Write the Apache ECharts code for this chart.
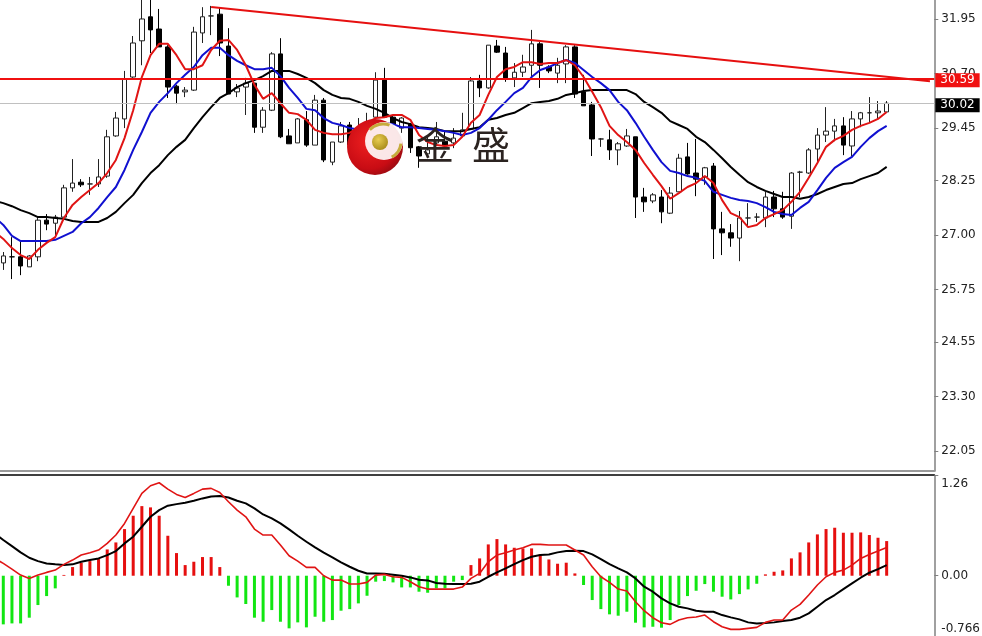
<!DOCTYPE html>
<html>
<head>
<meta charset="utf-8">
<style>html,body{margin:0;padding:0;background:#fff;}#c{width:982px;height:636px;}</style>
<script src="https://cdn.jsdelivr.net/npm/echarts@6/dist/echarts.min.js"></script>
</head>
<body>
<div id="c"></div>
<script>
const opens = [
26.36,26.50,26.50,26.27,26.50,27.34,27.27,27.41,28.08,28.21,
28.17,28.17,28.35,29.27,29.66,30.62,31.45,32.00,31.72,31.31,
30.41,30.28,30.32,31.63,32.02,32.06,31.33,30.28,30.39,30.48,
29.47,29.86,31.15,29.27,29.11,29.64,29.06,30.09,28.67,29.13,
29.52,29.18,29.29,29.70,30.55,29.70,29.45,29.54,29.02,28.86,
29.11,29.15,29.11,29.27,29.43,30.53,30.37,31.33,31.17,30.60,
30.73,30.89,31.38,30.85,30.71,30.92,31.31,30.28,29.98,29.20,
29.18,28.95,29.04,29.25,27.87,27.78,27.87,27.50,27.99,28.79,
28.42,28.33,28.58,27.14,27.05,26.93,27.39,27.41,27.39,27.87,
27.60,27.43,28.44,28.42,28.97,29.29,29.38,29.50,29.04,29.66,
29.80,29.80,29.82];
const closes = [
26.52,26.50,26.29,26.52,27.34,27.25,27.41,28.08,28.19,28.15,
28.17,28.33,29.25,29.68,30.57,31.40,31.95,31.70,31.31,30.39,
30.25,30.32,31.65,32.00,32.02,31.40,30.23,30.37,30.48,29.47,
29.86,31.15,29.25,29.09,29.66,29.06,30.09,28.72,29.13,29.50,
29.06,29.41,29.52,30.55,29.70,29.52,29.68,29.00,28.81,28.95,
29.25,29.04,29.22,29.41,30.53,30.37,31.35,31.19,30.60,30.73,
30.85,31.38,30.89,30.76,30.89,31.31,30.23,29.96,29.20,29.20,
28.95,29.09,29.27,27.87,27.76,27.92,27.53,27.96,28.76,28.40,
28.28,28.54,27.14,27.05,26.93,27.39,27.39,27.41,27.87,27.60,
27.41,28.42,28.44,28.95,29.29,29.38,29.50,29.06,29.66,29.80,
29.80,29.84,30.02];
const lows = [
26.20,25.99,26.08,26.27,26.40,27.11,27.00,27.41,27.99,28.10,
27.92,28.10,28.31,29.25,29.45,30.60,30.89,31.17,31.31,30.14,
30.00,30.16,30.30,31.40,31.58,31.10,30.23,30.16,29.75,29.34,
29.34,29.84,29.22,29.09,29.11,29.02,29.06,28.67,28.60,29.11,
28.95,29.10,29.20,29.68,29.70,29.47,29.34,28.88,28.54,28.79,
29.06,28.99,28.99,29.25,29.41,30.16,30.35,31.17,30.51,30.39,
30.62,30.64,30.37,30.71,30.48,30.48,30.14,29.96,28.81,29.02,
28.72,28.60,29.02,27.39,27.53,27.73,27.27,27.48,27.99,28.38,
27.89,28.15,26.45,26.54,26.73,26.40,27.18,27.30,27.18,27.41,
27.37,27.14,27.87,28.40,28.67,29.13,29.15,28.83,28.81,29.47,
29.57,29.64,29.82];
const highs = [
26.61,26.95,26.84,26.54,27.41,27.48,27.46,28.15,28.74,28.28,
28.33,28.74,29.41,29.82,30.76,31.56,32.60,32.50,32.18,31.35,
30.44,30.39,31.77,32.22,32.25,32.20,31.74,30.46,30.60,30.48,
29.93,31.19,31.51,29.43,29.68,29.84,30.21,30.14,29.13,29.59,
29.59,29.68,29.80,30.73,30.83,29.75,29.70,29.57,29.04,29.29,
29.59,29.36,29.45,29.80,30.62,30.67,31.35,31.47,31.31,30.94,
31.13,31.70,31.42,30.89,31.06,31.35,31.35,30.67,30.05,29.22,
29.41,29.13,29.43,29.25,28.08,27.96,28.03,28.10,28.86,29.11,
29.20,28.56,28.65,27.53,27.25,27.55,27.73,27.50,27.99,28.01,
27.99,28.44,28.47,28.99,29.45,29.93,29.66,29.70,29.84,29.82,
30.16,30.07,30.07];
const maFast = [
27.07,
26.91,26.70,26.54,26.45,26.66,26.82,26.95,27.39,27.69,27.87,
28.03,28.19,28.42,28.72,29.22,29.86,30.62,31.12,31.38,31.38,
31.12,30.80,30.80,30.89,31.24,31.45,31.47,31.24,30.89,30.44,
30.12,30.25,30.02,29.80,29.77,29.64,29.41,29.34,29.31,29.31,
29.34,29.47,29.57,29.68,29.70,29.75,29.75,29.64,29.29,29.13,
29.06,29.04,29.06,29.25,29.57,29.75,30.21,30.62,30.80,30.85,
30.96,30.96,30.92,30.94,30.94,31.01,30.89,30.62,30.28,29.93,
29.50,29.29,29.13,28.95,28.65,28.38,28.12,27.83,27.96,28.10,
28.19,28.35,28.19,27.80,27.50,27.41,27.18,27.23,27.39,27.48,
27.57,27.76,27.99,28.31,28.65,29.02,29.18,29.27,29.41,29.50,
29.57,29.66,29.82];
const maMid = [
27.41,
27.23,26.98,26.86,26.86,26.86,26.86,26.89,26.98,27.07,27.27,
27.41,27.62,27.87,28.10,28.49,28.95,29.36,29.80,30.05,30.25,
30.48,30.67,30.85,31.12,31.29,31.29,31.12,30.99,30.89,30.80,
30.80,30.83,30.64,30.37,30.14,29.89,29.86,29.68,29.57,29.52,
29.45,29.41,29.36,29.47,29.57,29.54,29.47,29.47,29.45,29.43,
29.41,29.38,29.34,29.29,29.34,29.45,29.64,29.86,30.05,30.25,
30.37,30.62,30.78,30.85,30.94,31.01,30.94,30.78,30.62,30.48,
30.32,30.05,29.86,29.57,29.25,28.95,28.67,28.47,28.42,28.35,
28.31,28.24,27.99,27.92,27.85,27.80,27.78,27.73,27.64,27.53,
27.48,27.46,27.62,27.76,28.03,28.31,28.54,28.67,28.79,29.02,
29.22,29.38,29.50];
const maSlow = [
27.78,
27.73,27.66,27.57,27.50,27.41,27.41,27.39,27.37,27.32,27.30,
27.30,27.30,27.39,27.53,27.73,27.92,28.19,28.42,28.60,28.83,
29.02,29.18,29.45,29.70,29.93,30.14,30.25,30.39,30.48,30.55,
30.64,30.76,30.76,30.76,30.69,30.60,30.48,30.32,30.21,30.14,
30.12,30.05,29.96,29.89,29.80,29.68,29.59,29.54,29.47,29.45,
29.43,29.38,29.38,29.38,29.43,29.47,29.64,29.68,29.75,29.80,
29.91,30.02,30.05,30.07,30.12,30.21,30.25,30.30,30.32,30.32,
30.32,30.32,30.32,30.23,30.05,29.93,29.80,29.61,29.52,29.43,
29.25,29.13,28.95,28.76,28.56,28.38,28.21,28.10,28.01,27.94,
27.87,27.87,27.83,27.87,27.94,28.03,28.10,28.17,28.19,28.28,
28.35,28.42,28.56];
const macdHist = [
-0.612,-0.600,-0.600,-0.528,-0.369,-0.256,-0.159,0.010,0.109,0.164,
0.184,0.210,0.331,0.419,0.587,0.755,0.876,0.860,0.755,0.503,
0.285,0.134,0.176,0.235,0.235,0.109,-0.126,-0.273,-0.356,-0.528,
-0.579,-0.432,-0.579,-0.662,-0.587,-0.650,-0.516,-0.579,-0.558,-0.440,
-0.420,-0.348,-0.252,-0.075,-0.067,-0.084,-0.147,-0.147,-0.201,-0.214,
-0.159,-0.159,-0.075,-0.055,0.134,0.218,0.394,0.461,0.394,0.352,
0.344,0.344,0.268,0.205,0.151,0.164,0.029,-0.117,-0.306,-0.420,
-0.486,-0.503,-0.453,-0.591,-0.650,-0.642,-0.654,-0.558,-0.369,-0.256,
-0.189,-0.105,-0.201,-0.264,-0.298,-0.231,-0.172,-0.101,0.017,0.050,
0.067,0.218,0.294,0.419,0.520,0.587,0.604,0.541,0.541,0.545,
0.512,0.478,0.436];
const macdRed = [
0.218,
0.155,0.084,0.008,-0.034,0.008,0.042,0.071,0.143,0.197,0.260,
0.289,0.323,0.407,0.512,0.658,0.847,1.036,1.132,1.170,1.090,
1.023,0.985,1.036,1.090,1.099,1.048,0.931,0.826,0.742,0.587,
0.512,0.512,0.386,0.252,0.184,0.105,0.105,0.000,-0.055,-0.055,
-0.105,-0.105,-0.084,0.008,0.017,-0.013,-0.021,-0.075,-0.138,-0.168,
-0.168,-0.168,-0.168,-0.143,-0.034,0.029,0.176,0.260,0.289,0.323,
0.352,0.394,0.394,0.386,0.386,0.386,0.323,0.260,0.113,-0.013,
-0.084,-0.168,-0.193,-0.327,-0.440,-0.528,-0.591,-0.612,-0.558,-0.528,
-0.520,-0.495,-0.579,-0.642,-0.675,-0.675,-0.662,-0.650,-0.587,-0.558,
-0.558,-0.432,-0.361,-0.243,-0.117,-0.013,0.042,0.071,0.134,0.218,
0.268,0.310,0.356];
const macdBlack = [
0.533,
0.449,0.373,0.294,0.226,0.184,0.155,0.143,0.134,0.143,0.176,
0.197,0.218,0.260,0.310,0.407,0.491,0.616,0.742,0.826,0.881,
0.901,0.918,0.943,0.973,0.998,1.002,0.985,0.943,0.910,0.847,
0.771,0.721,0.658,0.583,0.503,0.428,0.356,0.290,0.231,0.168,
0.113,0.063,0.029,0.029,0.025,0.013,0.000,-0.021,-0.050,-0.059,
-0.092,-0.101,-0.105,-0.105,-0.101,-0.075,-0.013,0.042,0.092,0.147,
0.197,0.239,0.260,0.268,0.294,0.310,0.314,0.310,0.268,0.210,
0.147,0.092,0.042,-0.034,-0.138,-0.201,-0.285,-0.348,-0.390,-0.411,
-0.440,-0.453,-0.453,-0.495,-0.524,-0.549,-0.587,-0.600,-0.595,-0.587,
-0.570,-0.558,-0.528,-0.474,-0.390,-0.306,-0.243,-0.168,-0.096,-0.025,
0.038,0.084,0.134];
const priceTicks = [22.05,23.30,24.55,25.75,27.00,28.25,29.45,30.70,31.95];
const macdTicks = [-0.766,0,1.26];
const macdLabels = ['-0.766','0.00','1.26'];
const askPrice = 30.59;
const lastPrice = 30.02;
const trendFrom = [25, 32.225];
const trendTo = [108, 30.524];
const priceMin = 21.592, priceMax = 32.385;
const macdMin = -0.766, macdMax = 1.26;

const categories = [];
for (let i = 0; i < 109; i++) categories.push(String(i));
// The first slot sits just left of the picture: only the lines reach into it.
const candles = [['-', '-', '-', '-']].concat(opens.map((o, i) => [o, closes[i], lows[i], highs[i]]));
const hist = ['-'].concat(macdHist);

const AXIS = '#808080';
const TXT = '#222';
const FONT = '"DejaVu Sans", sans-serif';
const line = (name, data, color, xi, yi, w) => ({
  type: 'line', name, data, xAxisIndex: xi, yAxisIndex: yi, showSymbol: false, symbol: 'none',
  smooth: false, lineStyle: { color, width: w }, z: 4, silent: true
});

const chart = echarts.init(document.getElementById('c'), null, { renderer: 'canvas' });
chart.setOption({
  animation: false,
  backgroundColor: '#fff',
  grid: [
    { left: -9.7, width: 944, top: 0, height: 471, outerBoundsMode: 'none' },
    { left: -9.7, width: 944, top: 475.6, height: 161, outerBoundsMode: 'none' }
  ],
  xAxis: [
    { type: 'category', gridIndex: 0, data: categories, position: 'bottom',
      axisLine: { show: true, onZero: false, lineStyle: { color: '#9a9a9a', width: 2 } },
      axisTick: { show: false }, axisLabel: { show: false }, splitLine: { show: false } },
    { type: 'category', gridIndex: 1, data: categories, position: 'top', offset: 1,
      axisLine: { show: true, onZero: false, lineStyle: { color: '#000', width: 1.5 } },
      axisTick: { show: false }, axisLabel: { show: false }, splitLine: { show: false } }
  ],
  yAxis: [
    { type: 'value', gridIndex: 0, position: 'right', min: priceMin, max: priceMax,
      axisLine: { show: true, lineStyle: { color: AXIS, width: 1.5 } },
      axisTick: { show: true, length: 4, lineStyle: { color: AXIS }, customValues: priceTicks },
      axisLabel: { show: true, margin: 7, color: TXT, fontFamily: FONT, fontSize: 12, padding: [3, 0, 0, 0],
        customValues: priceTicks, formatter: v => v.toFixed(2) },
      splitLine: { show: false } },
    { type: 'value', gridIndex: 1, position: 'right', min: macdMin, max: macdMax,
      axisLine: { show: true, lineStyle: { color: AXIS, width: 1.5 } },
      axisTick: { show: true, length: 4, lineStyle: { color: AXIS }, customValues: macdTicks },
      axisLabel: { show: true, margin: 7, color: TXT, fontFamily: FONT, fontSize: 12, padding: [2, 0, 2, 0],
        customValues: macdTicks, verticalAlignMinLabel: 'bottom', verticalAlignMaxLabel: 'top',
        formatter: v => macdLabels[macdTicks.indexOf(v)] },
      splitLine: { show: false } }
  ],
  series: [
    { type: 'candlestick', name: 'price', data: candles, xAxisIndex: 0, yAxisIndex: 0, barWidth: 5, z: 3, silent: true,
      itemStyle: { color: '#fff', color0: '#000', borderColor: '#222', borderColor0: '#000', borderWidth: 1 },
      markLine: { symbol: 'none', silent: true, animation: false, z: 5, data: [
        { yAxis: lastPrice, lineStyle: { color: '#c0c0c0', width: 1, type: 'solid' },
          label: { show: true, position: 'end', distance: 1, offset: [0, 2], formatter: lastPrice.toFixed(2), color: '#fff',
            backgroundColor: '#000', padding: [1, 5, 1, 5], fontFamily: FONT, fontSize: 12 } },
        { yAxis: askPrice, lineStyle: { color: '#f01010', width: 2, type: 'solid' },
          label: { show: true, position: 'end', distance: 1, offset: [0, 2], formatter: askPrice.toFixed(2), color: '#fff',
            backgroundColor: '#f01010', padding: [1, 5, 1, 5], fontFamily: FONT, fontSize: 12 } },
        [ { coord: [String(trendFrom[0]), trendFrom[1]], lineStyle: { color: '#e61010', width: 2, type: 'solid' }, label: { show: false } },
          { coord: [String(trendTo[0]), trendTo[1]] } ]
      ] } },
    line('maSlow', maSlow, '#000', 0, 0, 2),
    line('maMid', maMid, '#1010d0', 0, 0, 2),
    line('maFast', maFast, '#e01414', 0, 0, 2),
    { type: 'bar', name: 'hist', data: hist, xAxisIndex: 1, yAxisIndex: 1, barWidth: 3, z: 2, silent: true,
      itemStyle: { color: p => (p.value >= 0 ? '#e60f0f' : '#12e612') } },
    line('macdBlack', macdBlack, '#000', 1, 1, 2),
    line('macdRed', macdRed, '#e01414', 1, 1, 1.6)
  ],
  graphic: { elements: [
    { type: 'circle', z: 50, shape: { cx: 375, cy: 147, r: 28 },
      style: { fill: new echarts.graphic.RadialGradient(0.4, 0.4, 0.7, [
        { offset: 0, color: '#f02020' }, { offset: 0.7, color: '#c80c14' }, { offset: 1, color: '#8c0a10' } ]) } },
    { type: 'circle', z: 51, shape: { cx: 384, cy: 141, r: 19 }, style: { fill: 'rgba(255,255,255,0.9)' } },
    { type: 'circle', z: 52, shape: { cx: 380, cy: 142, r: 8 },
      style: { fill: new echarts.graphic.RadialGradient(0.4, 0.35, 0.7, [
        { offset: 0, color: '#e8cc50' }, { offset: 1, color: '#a88a18' } ]) } },
    { type: 'arc', z: 52, shape: { cx: 383, cy: 142, r: 18, startAngle: -2.4, endAngle: -1.2 },
      style: { stroke: '#c6ab3c', fill: null, lineWidth: 3 } },
    { type: 'arc', z: 52, shape: { cx: 384, cy: 142, r: 17, startAngle: 0.1, endAngle: 1.1 },
      style: { stroke: '#c6ab3c', fill: null, lineWidth: 3 } },
    { type: 'text', z: 53, x: 416, y: 126, style: { text: '金', fill: '#2b2320', font: '38px "Noto Sans CJK SC"' } },
    { type: 'text', z: 53, x: 472, y: 126, style: { text: '盛', fill: '#2b2320', font: '38px "Noto Sans CJK SC"' } }
  ] }
});
</script>
</body>
</html>
